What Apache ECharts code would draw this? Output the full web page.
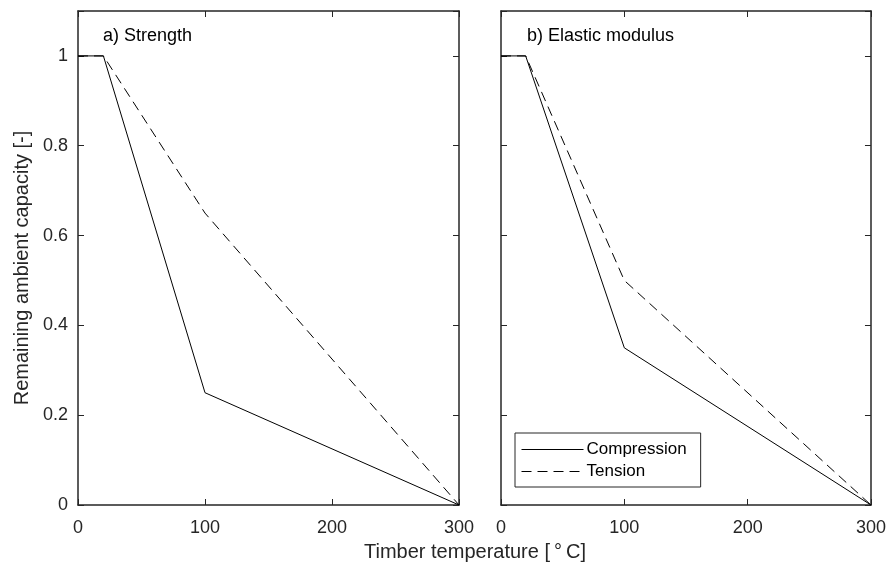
<!DOCTYPE html>
<html><head><meta charset="utf-8">
<script src="https://cdn.jsdelivr.net/npm/echarts@6/dist/echarts.min.js"></script>
<style>html,body{margin:0;padding:0;background:#fff}#c{width:889px;height:564px}</style>
</head><body><div id="c"></div>
<script>
// Data (EN 1995-1-2 style reduction factors)
const temps = [0, 20, 100, 300];
const strengthCompression = [1, 1, 0.25, 0];
const strengthTension = [1, 1, 0.65, 0];
const modulusCompression = [1, 1, 0.35, 0];
const modulusTension = [1, 1, 0.5, 0];
const xTicks = [0, 100, 200, 300];
const yTicks = [0, 0.2, 0.4, 0.6, 0.8, 1];
const panelTitles = ['a) Strength', 'b) Elastic modulus'];
const seriesNames = ['Compression', 'Tension'];

const pairs = (xs, ys) => xs.map((x, i) => [x, ys[i]]);
const AX = '#262626';
const FONT = 'Liberation Sans, Arial, Helvetica, sans-serif';

function xAx(grid, pos, showLabel) {
  return {
    type: 'value', gridIndex: grid, position: pos, min: 0, max: 300, interval: 100,
    axisLine: {show: true, onZero: false, lineStyle: {color: AX, width: 1.5}},
    axisTick: {show: true, inside: true, length: 6, lineStyle: {color: AX, width: 1}},
    axisLabel: {show: showLabel, color: AX, fontSize: 18, fontFamily: FONT, margin: 14},
    splitLine: {show: false}
  };
}
function yAx(grid, pos, showLabel) {
  return {
    type: 'value', gridIndex: grid, position: pos, min: 0, max: 1.1, interval: 0.2,
    axisLine: {show: true, onZero: false, lineStyle: {color: AX, width: 1.5}},
    axisTick: {show: true, inside: true, length: 6, lineStyle: {color: AX, width: 1}},
    axisLabel: {show: showLabel, color: AX, fontSize: 18, fontFamily: FONT, margin: 10,
      formatter: v => (v > 1.05 ? '' : String(+v.toFixed(1)))},
    splitLine: {show: false}
  };
}
function line(name, data, xi, yi, dashed) {
  return {
    name: name, type: 'line', xAxisIndex: xi, yAxisIndex: yi, data: data,
    symbol: 'none', animation: false,
    lineStyle: {color: '#000', width: 1, type: dashed ? [10, 6] : 'solid'},
    itemStyle: {color: '#000'}
  };
}

const chart = echarts.init(document.getElementById('c'));
chart.setOption({
  animation: false,
  backgroundColor: '#fff',
  grid: [
    {left: 78, right: 430, top: 11, bottom: 59},
    {left: 501, right: 17, top: 11, bottom: 59}
  ],
  xAxis: [xAx(0, 'bottom', true), xAx(0, 'top', false), xAx(1, 'bottom', true), xAx(1, 'top', false)],
  yAxis: [yAx(0, 'left', true), yAx(0, 'right', false), yAx(1, 'left', false), yAx(1, 'right', false)],
  title: [
    {text: panelTitles[0], left: 103, top: 27, textStyle: {fontSize: 18, fontWeight: 'normal', color: '#000', fontFamily: FONT}, padding: 0},
    {text: panelTitles[1], left: 527, top: 27, textStyle: {fontSize: 18, fontWeight: 'normal', color: '#000', fontFamily: FONT}, padding: 0}
  ],
  legend: {
    data: seriesNames, orient: 'vertical', left: 515, top: 433,
    padding: [8, 14, 7, 6], itemGap: 5, itemWidth: 62, itemHeight: 18,
    borderColor: AX, borderWidth: 1, backgroundColor: '#fff',
    itemStyle: {opacity: 0},
    lineStyle: {width: 1},
    textStyle: {fontSize: 17, color: '#000', fontFamily: FONT, padding: [0, 0, 0, -2]},
    selectedMode: false
  },
  graphic: [
    {type: 'text', x: 475, y: 552, style: {text: 'Timber temperature [\u2009°\u2009C]', fontSize: 20, fill: AX, fontFamily: FONT, align: 'center', verticalAlign: 'middle'}},
    {type: 'text', rotation: Math.PI / 2, x: 22, y: 268, style: {text: 'Remaining ambient capacity [-]', fontSize: 20, fill: AX, fontFamily: FONT, align: 'center', verticalAlign: 'middle'}}
  ],
  series: [
    line(seriesNames[0], pairs(temps, strengthCompression), 0, 0, false),
    line(seriesNames[1], pairs(temps, strengthTension), 0, 0, true),
    line(seriesNames[0], pairs(temps, modulusCompression), 2, 2, false),
    line(seriesNames[1], pairs(temps, modulusTension), 2, 2, true)
  ]
});
</script></body></html>
